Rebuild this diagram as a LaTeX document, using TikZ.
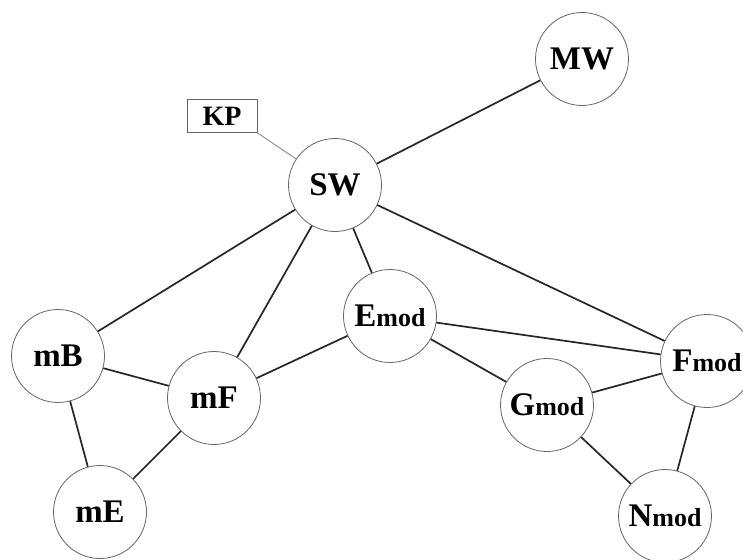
\documentclass[tikz,border=0pt]{standalone}
\usepackage{fontspec}
\setmainfont{Liberation Serif}
\begin{document}
\begin{tikzpicture}[x=1pt,y=-1pt,
  nd/.style={circle,draw=black!60,line width=0.8pt,fill=white,minimum size=93pt,inner sep=0pt,
    font=\fontsize{33}{33}\selectfont\bfseries},
  bx/.style={rectangle,draw=black!60,line width=0.8pt,fill=white,minimum width=70pt,minimum height=33pt,inner sep=0pt,
    font=\fontsize{28}{28}\selectfont\bfseries},
  ed/.style={line width=1.7pt,black!85},
  thin/.style={line width=0.7pt,black!55}]
\newcommand{\sm}[1]{{\fontsize{26}{26}\selectfont #1}}
\clip (0,0) rectangle (743,559);
\useasboundingbox (0,0) rectangle (743,559);
\fill[white] (0,0) rectangle (743,559);
% nodes
\node[bx] (KP) at (222,116) {KP};
\node[nd] (MW) at (582,59) {MW};
\node[nd] (SW) at (335,185) {SW};
\node[nd] (mB) at (58,356) {mB};
\node[nd] (mF) at (214,398) {mF};
\node[nd] (mE) at (100,512) {mE};
\node[nd] (Emod) at (390,316) {E\sm{mod}};
\node[nd] (Fmod) at (707,361) {F\sm{mod}};
\node[nd] (Gmod) at (547,405) {G\sm{mod}};
\node[nd] (Nmod) at (665,516) {N\sm{mod}};
% edges
\draw[thin] (KP.south east) -- (SW);
\draw[ed] (SW) -- (MW);
\draw[ed] (SW) -- (mB);
\draw[ed] (SW) -- (mF);
\draw[ed] (SW) -- (Emod);
\draw[ed] (SW) -- (Fmod);
\draw[ed] (mB) -- (mF);
\draw[ed] (mB) -- (mE);
\draw[ed] (mF) -- (mE);
\draw[ed] (mF) -- (Emod);
\draw[ed] (Emod) -- (Fmod);
\draw[ed] (Emod) -- (Gmod);
\draw[ed] (Gmod) -- (Fmod);
\draw[ed] (Gmod) -- (Nmod);
\draw[ed] (Fmod) -- (Nmod);
\end{tikzpicture}
\end{document}
